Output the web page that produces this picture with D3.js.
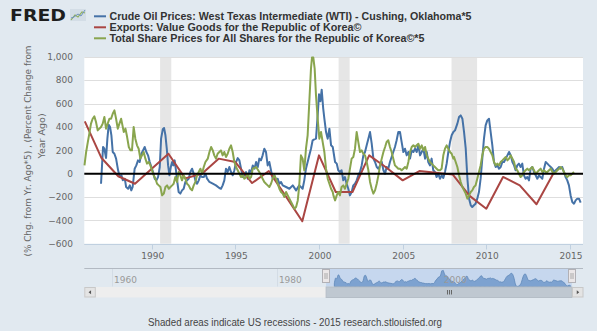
<!DOCTYPE html>
<html>
<head>
<meta charset="utf-8">
<script src="https://cdn.jsdelivr.net/npm/d3@7"></script>
<style>
  body { margin: 0; background: #e1e9f0; }
  svg { display: block; }
</style>
</head>
<body>
<div id="chart"></div>
<script>
// ── data ────────────────────────────────────────────────────────
const seriesNames = [
    'Crude Oil Prices: West Texas Intermediate (WTI) - Cushing, Oklahoma*5',
    'Exports: Value Goods for the Republic of Korea©',
    'Total Share Prices for All Shares for the Republic of Korea©*5'
];

// [decimal year, % chg from yr ago * 5]
const wtiSeries = [
    [1986.97,-86],[1987.09,229],[1987.17,214],[1987.27,134],[1987.35,300],[1987.43,420],[1987.51,400],
    [1987.59,329],[1987.67,186],[1987.77,171],[1987.87,129],[1987.99,29],[1988.09,-29],[1988.19,-14],
    [1988.27,-57],[1988.39,-43],[1988.47,-114],[1988.59,-129],[1988.69,-100],[1988.78,-143],[1988.86,-114],
    [1988.98,43],[1989.08,71],[1989.18,114],[1989.28,100],[1989.38,171],[1989.48,200],[1989.58,229],
    [1989.68,186],[1989.78,157],[1989.88,100],[1989.98,57],[1990.08,14],[1990.18,-43],[1990.28,-57],
    [1990.38,-29],[1990.48,57],[1990.56,300],[1990.66,380],[1990.74,391],[1990.82,329],[1990.90,214],
    [1990.98,71],[1991.06,-14],[1991.14,57],[1991.22,100],[1991.29,71],[1991.37,114],[1991.45,29],
    [1991.53,-71],[1991.61,-157],[1991.71,-171],[1991.81,-143],[1991.91,-129],[1992.01,-71],[1992.11,-57],
    [1992.21,-43],[1992.31,14],[1992.41,43],[1992.51,0],[1992.61,-57],[1992.71,-86],[1992.81,-57],
    [1992.91,-14],[1993.01,-29],[1993.11,-29],[1993.21,0],[1993.31,-43],[1993.45,-71],[1993.65,-86],
    [1993.84,-100],[1994.04,-123],[1994.14,-129],[1994.24,-100],[1994.34,-57],[1994.44,43],[1994.54,14],
    [1994.64,57],[1994.74,14],[1994.84,-14],[1994.94,29],[1995.04,100],[1995.14,134],[1995.24,114],
    [1995.34,43],[1995.44,-29],[1995.54,-14],[1995.64,14],[1995.74,-43],[1995.84,29],[1995.94,14],
    [1996.04,71],[1996.14,43],[1996.24,100],[1996.34,57],[1996.43,129],[1996.53,114],[1996.63,157],
    [1996.73,214],[1996.83,186],[1996.93,71],[1997.03,100],[1997.13,29],[1997.23,-43],[1997.33,-14],
    [1997.43,-57],[1997.53,-43],[1997.63,-86],[1997.73,-71],[1997.83,-100],[1998.03,-114],[1998.23,-129],
    [1998.43,-100],[1998.63,-143],[1998.82,-100],[1999.02,-129],[1999.12,-57],[1999.22,43],[1999.32,100],
    [1999.42,157],[1999.52,214],[1999.62,286],[1999.72,294],[1999.82,300],[1999.92,500],[2000.0,680],
    [2000.08,620],[2000.16,720],[2000.25,560],[2000.32,471],[2000.42,357],[2000.52,300],[2000.62,386],
    [2000.72,243],[2000.82,229],[2000.96,100],[2001.06,86],[2001.15,29],[2001.25,14],[2001.35,29],
    [2001.45,-57],[2001.55,-29],[2001.65,-86],[2001.75,-129],[2001.85,-186],[2001.95,-157],[2002.05,-100],
    [2002.15,-86],[2002.25,-57],[2002.35,-14],[2002.45,14],[2002.55,71],[2002.65,157],[2002.75,186],
    [2002.85,243],[2002.95,300],[2003.05,357],[2003.15,257],[2003.25,129],[2003.35,100],[2003.45,57],
    [2003.55,43],[2003.65,71],[2003.75,100],[2003.85,29],[2003.95,0],[2004.04,57],[2004.14,43],
    [2004.24,100],[2004.34,143],[2004.44,186],[2004.54,229],[2004.64,286],[2004.74,357],[2004.84,357],
    [2004.94,271],[2005.04,186],[2005.14,214],[2005.24,157],[2005.34,186],[2005.44,129],[2005.54,200],
    [2005.64,186],[2005.74,214],[2005.84,186],[2005.94,243],[2006.04,157],[2006.14,186],[2006.24,214],
    [2006.34,129],[2006.44,186],[2006.53,100],[2006.63,71],[2006.73,129],[2006.83,29],[2006.93,14],
    [2007.03,-29],[2007.13,0],[2007.23,-43],[2007.33,-14],[2007.43,-37],[2007.53,14],[2007.63,86],
    [2007.73,186],[2007.83,271],[2007.93,329],[2008.03,357],[2008.13,371],[2008.27,429],[2008.37,486],
    [2008.47,500],[2008.57,471],[2008.67,357],[2008.77,214],[2008.87,-43],[2008.97,-214],[2009.07,-271],
    [2009.16,-286],[2009.26,-271],[2009.36,-257],[2009.46,-214],[2009.56,-157],[2009.66,-43],[2009.76,129],
    [2009.86,300],[2009.96,414],[2010.06,457],[2010.16,471],[2010.26,357],[2010.36,243],[2010.46,100],
    [2010.56,57],[2010.66,71],[2010.76,43],[2010.86,57],[2010.96,100],[2011.06,100],[2011.16,129],
    [2011.26,157],[2011.36,186],[2011.46,157],[2011.56,100],[2011.66,71],[2011.75,29],[2011.85,71],
    [2011.95,86],[2012.05,57],[2012.15,86],[2012.25,-14],[2012.35,-43],[2012.45,-29],[2012.55,-57],
    [2012.65,43],[2012.75,57],[2012.85,14],[2012.95,-14],[2013.05,-43],[2013.15,-14],[2013.25,-29],
    [2013.35,-43],[2013.45,43],[2013.55,100],[2013.65,86],[2013.75,71],[2013.85,57],[2013.95,43],
    [2014.05,14],[2014.15,29],[2014.25,43],[2014.35,57],[2014.45,43],[2014.54,57],[2014.64,14],
    [2014.74,-29],[2014.84,-57],[2014.94,-100],[2015.04,-186],[2015.14,-243],[2015.24,-257],[2015.34,-229],
    [2015.44,-214],[2015.54,-214],[2015.64,-249]
];

// annual, Jan 1 of each year
const exportYears = d3.range(1986, 2015);
const exportValues = [449, 134, -22, -86, 42, 171, -40, 0, 129, 100, -80, 23, -190, -408, 157,
    -157, -157, 157, 55, -57, 23, 9, -8, -190, -300, -28, -100, -262, 0];

const shareSeries = [
    [1985.98,71],[1986.08,186],[1986.18,271],[1986.27,343],[1986.37,429],[1986.47,471],[1986.57,491],
    [1986.67,443],[1986.77,371],[1986.87,386],[1986.97,400],[1987.07,429],[1987.17,486],[1987.27,386],
    [1987.37,429],[1987.47,471],[1987.57,471],[1987.67,514],[1987.77,543],[1987.87,471],[1987.97,386],
    [1988.07,429],[1988.17,471],[1988.23,429],[1988.33,357],[1988.43,386],[1988.53,314],[1988.63,229],
    [1988.73,200],[1988.82,200],[1988.92,400],[1989.02,300],[1989.12,243],[1989.22,214],[1989.32,129],
    [1989.42,157],[1989.52,186],[1989.62,129],[1989.72,86],[1989.82,100],[1989.92,71],[1990.02,29],
    [1990.12,-14],[1990.22,-43],[1990.32,-86],[1990.42,-100],[1990.52,-114],[1990.62,-186],[1990.72,-171],
    [1990.82,-114],[1990.92,-100],[1991.02,-129],[1991.12,-114],[1991.22,-100],[1991.31,-86],[1991.41,-29],
    [1991.51,-71],[1991.61,14],[1991.71,-14],[1991.81,-57],[1991.91,-14],[1992.01,-43],[1992.11,-86],
    [1992.21,-100],[1992.31,-129],[1992.41,-143],[1992.51,-100],[1992.61,-71],[1992.71,-14],[1992.81,14],
    [1992.91,43],[1993.01,0],[1993.11,57],[1993.21,100],[1993.35,129],[1993.45,186],[1993.55,229],
    [1993.65,200],[1993.74,157],[1993.84,129],[1993.94,171],[1994.04,186],[1994.14,200],[1994.24,157],
    [1994.34,186],[1994.44,143],[1994.54,171],[1994.64,214],[1994.74,243],[1994.84,186],[1994.94,100],
    [1995.04,57],[1995.14,29],[1995.24,0],[1995.34,-29],[1995.44,-14],[1995.54,-43],[1995.64,-29],
    [1995.74,0],[1995.84,-43],[1995.94,-29],[1996.04,43],[1996.24,57],[1996.43,14],[1996.63,-43],
    [1996.73,-71],[1996.83,-86],[1996.93,-100],[1997.03,-114],[1997.13,-86],[1997.23,-43],[1997.33,-14],
    [1997.43,-43],[1997.53,-86],[1997.63,-129],[1997.73,-157],[1997.83,-171],[1997.93,-200],[1998.03,-157],
    [1998.13,-186],[1998.23,-214],[1998.33,-243],[1998.43,-271],[1998.53,-300],[1998.63,-286],[1998.73,-229],
    [1998.82,-100],[1998.92,157],[1999.02,129],[1999.12,29],[1999.22,214],[1999.32,329],[1999.42,614],
    [1999.52,900],[1999.58,995],[1999.66,995],[1999.74,900],[1999.82,671],[1999.92,471],[2000.02,300],
    [2000.12,357],[2000.22,271],[2000.32,186],[2000.42,43],[2000.52,-43],[2000.62,-86],[2000.72,-129],
    [2000.82,-157],[2000.86,-186],[2000.96,-229],[2001.06,-186],[2001.15,-157],[2001.25,-186],[2001.35,-114],
    [2001.45,-100],[2001.55,-129],[2001.65,-86],[2001.75,-43],[2001.85,43],[2001.95,129],[2002.05,143],
    [2002.15,214],[2002.25,357],[2002.35,271],[2002.45,186],[2002.55,200],[2002.65,171],[2002.75,157],
    [2002.85,100],[2002.95,29],[2003.05,-71],[2003.15,-129],[2003.25,-171],[2003.35,-143],[2003.45,-86],
    [2003.55,-14],[2003.65,71],[2003.75,129],[2003.85,186],[2003.95,229],[2004.04,271],[2004.14,286],
    [2004.24,229],[2004.34,186],[2004.44,129],[2004.54,71],[2004.64,57],[2004.74,43],[2004.84,43],
    [2004.94,29],[2005.04,43],[2005.14,57],[2005.24,43],[2005.34,100],[2005.44,186],[2005.54,229],
    [2005.64,243],[2005.74,229],[2005.84,243],[2005.94,257],[2006.04,214],[2006.14,243],[2006.24,200],
    [2006.34,229],[2006.44,157],[2006.53,129],[2006.63,100],[2006.73,86],[2006.83,71],[2006.93,57],
    [2007.03,43],[2007.13,29],[2007.23,29],[2007.33,43],[2007.43,157],[2007.53,214],[2007.63,243],
    [2007.73,214],[2007.83,186],[2007.93,171],[2008.03,129],[2008.07,143],[2008.17,100],[2008.27,57],
    [2008.37,-14],[2008.47,-71],[2008.57,-114],[2008.67,-143],[2008.77,-171],[2008.87,-214],[2008.97,-186],
    [2009.07,-157],[2009.16,-143],[2009.26,-114],[2009.36,-100],[2009.46,-43],[2009.56,14],[2009.66,71],
    [2009.76,157],[2009.86,214],[2009.96,229],[2010.06,229],[2010.16,214],[2010.26,186],[2010.36,157],
    [2010.46,100],[2010.56,71],[2010.66,86],[2010.76,71],[2010.86,100],[2010.96,114],[2011.06,129],
    [2011.16,143],[2011.26,114],[2011.36,129],[2011.46,157],[2011.56,129],[2011.66,100],[2011.75,43],
    [2011.85,29],[2011.95,0],[2012.05,-29],[2012.15,-14],[2012.25,14],[2012.35,29],[2012.45,43],
    [2012.55,29],[2012.65,43],[2012.75,57],[2012.85,29],[2012.95,0],[2013.05,14],[2013.15,29],
    [2013.25,43],[2013.35,14],[2013.45,29],[2013.55,14],[2013.65,14],[2013.75,29],[2013.85,43],
    [2013.95,14],[2014.05,0],[2014.15,14],[2014.25,29],[2014.35,43],[2014.45,57],[2014.54,43],
    [2014.64,14],[2014.74,-14],[2014.84,-29],[2014.94,-14],[2015.04,-14],[2015.14,0],[2015.24,14]
];

// US recessions (NBER), decimal years
const recessions = [[1990.5, 1991.17], [2001.17, 2001.83], [2007.92, 2009.45]];

const xTicks = [1990, 1995, 2000, 2005, 2010, 2015];
const yTicks = [-600, -400, -200, 0, 200, 400, 600, 800, 1000];
const navTicks = [1960, 1980, 2000];
const colors = ['#4572a7', '#aa4643', '#89a54e'];

// ── layout ──────────────────────────────────────────────────────
const W = 602, H = 334;
const plot = { left: 84.3, right: 583, top: 57, bottom: 243.7 };
const nav = { top: 268, bottom: 286.5, left: 84.3, right: 583 };
const FONT = "'DejaVu Sans', Verdana, sans-serif";
const FONT2 = "'Liberation Sans', Arial, sans-serif";

const svg = d3.select('#chart').append('svg').attr('width', W).attr('height', H);
svg.append('rect').attr('width', W).attr('height', H).attr('fill', '#e1e9f0');
svg.append('rect').attr('x', 597).attr('width', 5).attr('height', H).attr('fill', '#fff');
svg.append('rect').attr('y', 331).attr('width', W).attr('height', 3).attr('fill', '#fff');

const x = d3.scaleLinear().domain([1985.97, 2015.78]).range([plot.left, plot.right]);
const y = d3.scaleLinear().domain([-600, 1000]).range([plot.bottom, plot.top]);

// plot background + recessions + grid
svg.append('rect')
    .attr('x', plot.left).attr('y', plot.top)
    .attr('width', plot.right - plot.left).attr('height', plot.bottom - plot.top)
    .attr('fill', '#fff');

svg.append('g').selectAll('rect').data(recessions).join('rect')
    .attr('x', d => x(d[0])).attr('y', plot.top)
    .attr('width', d => x(d[1]) - x(d[0])).attr('height', plot.bottom - plot.top)
    .attr('fill', '#e6e6e6');

svg.append('g').selectAll('line').data(yTicks.filter(v => v !== 0)).join('line')
    .attr('x1', plot.left).attr('x2', plot.right)
    .attr('y1', d => Math.round(y(d)) + 0.5).attr('y2', d => Math.round(y(d)) + 0.5)
    .attr('stroke', '#dedede').attr('stroke-width', 1);

// y labels
svg.append('g').selectAll('text').data(yTicks).join('text')
    .attr('x', 73).attr('y', d => y(d)).attr('dy', '0.35em')
    .attr('text-anchor', 'end')
    .attr('font-family', FONT).attr('font-size', 9).attr('fill', '#666')
    .text(d => d3.format(',')(d));

// x axis
const xAxisY = Math.round(plot.bottom) + 0.5;
svg.append('line').attr('x1', plot.left).attr('x2', plot.right)
    .attr('y1', xAxisY).attr('y2', xAxisY).attr('stroke', '#c0d0e0');
svg.append('g').selectAll('line').data(xTicks).join('line')
    .attr('x1', d => Math.round(x(d)) + 0.5).attr('x2', d => Math.round(x(d)) + 0.5)
    .attr('y1', xAxisY).attr('y2', xAxisY + 5).attr('stroke', '#c0d0e0');
svg.append('g').selectAll('text').data(xTicks).join('text')
    .attr('x', d => x(d) + 1).attr('y', 258.5).attr('text-anchor', 'middle')
    .attr('font-family', FONT).attr('font-size', 9).attr('fill', '#666')
    .text(d => d);

// series
const line = d3.line().x(d => x(d[0])).y(d => y(d[1]));
const exportSeries = exportYears.map((yr, i) => [yr, exportValues[i]]);
[wtiSeries, exportSeries, shareSeries].forEach((s, i) => {
    svg.append('path').datum(s)
        .attr('d', line)
        .attr('fill', 'none').attr('stroke', colors[i])
        .attr('stroke-width', 2).attr('stroke-linejoin', 'round');
});

// zero line
svg.append('line').attr('x1', plot.left).attr('x2', plot.right)
    .attr('y1', y(0)).attr('y2', y(0)).attr('stroke', '#000').attr('stroke-width', 2);

// y-axis title
const yTitle = svg.append('g').attr('font-family', FONT).attr('font-size', 9.5).attr('fill', '#666');
yTitle.append('text')
    .attr('transform', 'translate(31,151) rotate(-90)').attr('text-anchor', 'middle')
    .attr('textLength', 211).attr('lengthAdjust', 'spacingAndGlyphs')
    .text('(% Chg. from Yr. Ago*5) , (Percent Change from');
yTitle.append('text')
    .attr('transform', 'translate(44.5,136) rotate(-90)').attr('text-anchor', 'middle')
    .text('Year Ago)');

// FRED logo
svg.append('text').attr('x', 10).attr('y', 21)
    .attr('font-family', FONT).attr('font-weight', 900).attr('font-size', 16)
    .attr('textLength', 56).attr('lengthAdjust', 'spacingAndGlyphs')
    .attr('fill', '#1e1e1e').text('FRED');
const icon = svg.append('g').attr('transform', 'translate(70,9)');
icon.append('rect').attr('width', 16).attr('height', 12).attr('fill', '#d3dde6');
icon.append('polyline').attr('points', '1,11 5,6 8,8 12,3 15,4')
    .attr('fill', 'none').attr('stroke', '#8fb05a').attr('stroke-width', 1.2);
icon.append('polyline').attr('points', '1,9 4,8 8,5 11,7 15,1')
    .attr('fill', 'none').attr('stroke', '#6f93bd').attr('stroke-width', 1);

// legend
const legendRows = [16.3, 27.3, 38.3];
const legendWidths = [362, 252, 315];
const legend = svg.append('g');
seriesNames.forEach((name, i) => {
    legend.append('line').attr('x1', 94).attr('x2', 106)
        .attr('y1', legendRows[i]).attr('y2', legendRows[i])
        .attr('stroke', colors[i]).attr('stroke-width', 2);
    legend.append('text').attr('x', 109.5).attr('y', legendRows[i] + 3.6)
        .attr('font-family', FONT2).attr('font-weight', 'bold').attr('font-size', 10.5)
        .attr('fill', '#333')
        .attr('textLength', legendWidths[i]).attr('lengthAdjust', 'spacingAndGlyphs')
        .text(name);
});

// ── navigator ──────────────────────────────────────────────────
const nx = d3.scaleLinear().domain([1956.64, 2017.13]).range([nav.left, nav.right]);
const ny = d3.scaleLinear().domain(d3.extent(wtiSeries, d => d[1])).range([nav.bottom, nav.top + 1.5]);

svg.append('g').selectAll('line').data(navTicks).join('line')
    .attr('x1', d => Math.round(nx(d)) + 0.5).attr('x2', d => Math.round(nx(d)) + 0.5)
    .attr('y1', nav.top).attr('y2', nav.bottom).attr('stroke', '#d3dce5');

const selStart = x.domain()[0], selEnd = x.domain()[1];
svg.append('rect').attr('x', nx(selStart)).attr('y', nav.top)
    .attr('width', nx(selEnd) - nx(selStart)).attr('height', nav.bottom - nav.top)
    .attr('fill', '#c6d7ee');

svg.append('path').datum(wtiSeries)
    .attr('d', d3.area().x(d => nx(d[0])).y0(nav.bottom).y1(d => ny(d[1])).curve(d3.curveBasis))
    .attr('fill', '#7da2d0').attr('stroke', '#5d86b8').attr('stroke-width', 0.8);

svg.append('g').selectAll('text').data(navTicks).join('text')
    .attr('x', d => nx(d) + 2).attr('y', 283)
    .attr('font-family', FONT).attr('font-size', 9).attr('fill', '#999')
    .text(d => d);

svg.append('line').attr('x1', nav.left).attr('x2', nav.right)
    .attr('y1', nav.top + 0.5).attr('y2', nav.top + 0.5).attr('stroke', '#b2b9c2');

// handles
[selStart, selEnd].forEach(v => {
    const hx = Math.round(nx(v));
    const h = svg.append('g').attr('transform', `translate(${hx},${nav.top + 1})`);
    h.append('rect').attr('x', -3.5).attr('y', 0.5).attr('width', 7).attr('height', 13)
        .attr('fill', '#ebe7e8').attr('stroke', '#b2b1b6');
    h.append('line').attr('x1', -1).attr('x2', -1).attr('y1', 4).attr('y2', 10).attr('stroke', '#aaa');
    h.append('line').attr('x1', 1).attr('x2', 1).attr('y1', 4).attr('y2', 10).attr('stroke', '#aaa');
});

// scrollbar
const sbTop = 287, sbH = 10.5;
svg.append('rect').attr('x', nav.left).attr('y', sbTop).attr('width', nav.right - nav.left).attr('height', sbH)
    .attr('fill', '#eeeeee');
svg.append('rect').attr('x', nx(selStart)).attr('y', sbTop).attr('width', nx(selEnd) - nx(selStart)).attr('height', sbH)
    .attr('fill', '#bfc8d1').attr('stroke', '#b5bec7');
const gripX = (nx(selStart) + nx(selEnd)) / 2;
[-2, 0, 2].forEach(o => {
    svg.append('line').attr('x1', gripX + o + 0.5).attr('x2', gripX + o + 0.5)
        .attr('y1', sbTop + 3).attr('y2', sbTop + 7.5).attr('stroke', '#666');
});
[[nav.left, 'left'], [nav.right - 11, 'right']].forEach(([bx, dir]) => {
    svg.append('rect').attr('x', bx + 0.5).attr('y', sbTop + 0.5).attr('width', 10.5).attr('height', sbH - 1)
        .attr('fill', '#e4e4e4').attr('stroke', '#c8c8c8');
    const cx = bx + 5.75, cy = sbTop + sbH / 2;
    const pts = dir === 'left'
        ? `${cx + 1},${cy - 2} ${cx - 1.5},${cy} ${cx + 1},${cy + 2}`
        : `${cx - 1},${cy - 2} ${cx + 1.5},${cy} ${cx - 1},${cy + 2}`;
    svg.append('polygon').attr('points', pts).attr('fill', '#555');
});

// footer
svg.append('text').attr('x', 295).attr('y', 325.5).attr('text-anchor', 'middle')
    .attr('font-family', FONT2).attr('font-size', 10.5).attr('fill', '#444')
    .attr('textLength', 294).attr('lengthAdjust', 'spacingAndGlyphs')
    .text('Shaded areas indicate US recessions - 2015 research.stlouisfed.org');
</script>
</body>
</html>
